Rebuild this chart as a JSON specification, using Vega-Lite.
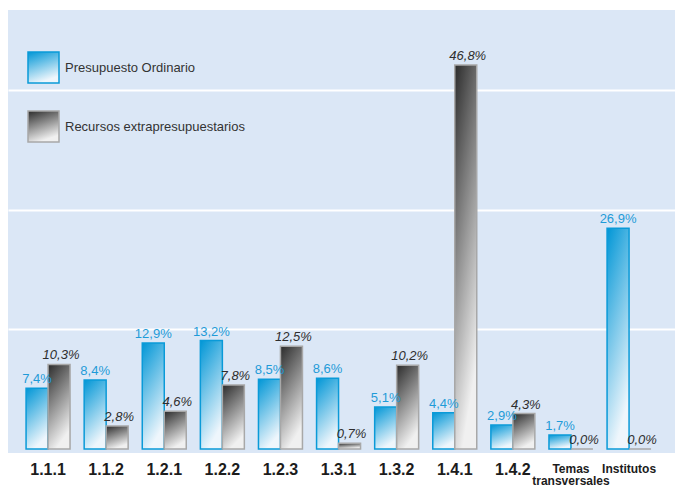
{
  "$schema": "https://vega.github.io/schema/vega-lite/v6.json",
  "width": 667,
  "height": 443,
  "autosize": "none",
  "padding": {"left": 8, "top": 10, "right": 0, "bottom": 35},
  "background": "white",
  "config": {
    "view": {"fill": "#dbe7f6", "stroke": null},
    "font": "Liberation Sans"
  },
  "data": {
    "values": [
      {"cat": "1.1.1", "series": "Presupuesto Ordinario", "v": 7.4},
      {"cat": "1.1.1", "series": "Recursos extrapresupuestarios", "v": 10.3},
      {"cat": "1.1.2", "series": "Presupuesto Ordinario", "v": 8.4},
      {"cat": "1.1.2", "series": "Recursos extrapresupuestarios", "v": 2.8},
      {"cat": "1.2.1", "series": "Presupuesto Ordinario", "v": 12.9},
      {"cat": "1.2.1", "series": "Recursos extrapresupuestarios", "v": 4.6},
      {"cat": "1.2.2", "series": "Presupuesto Ordinario", "v": 13.2},
      {"cat": "1.2.2", "series": "Recursos extrapresupuestarios", "v": 7.8},
      {"cat": "1.2.3", "series": "Presupuesto Ordinario", "v": 8.5},
      {"cat": "1.2.3", "series": "Recursos extrapresupuestarios", "v": 12.5},
      {"cat": "1.3.1", "series": "Presupuesto Ordinario", "v": 8.6},
      {"cat": "1.3.1", "series": "Recursos extrapresupuestarios", "v": 0.7},
      {"cat": "1.3.2", "series": "Presupuesto Ordinario", "v": 5.1},
      {"cat": "1.3.2", "series": "Recursos extrapresupuestarios", "v": 10.2},
      {"cat": "1.4.1", "series": "Presupuesto Ordinario", "v": 4.4},
      {"cat": "1.4.1", "series": "Recursos extrapresupuestarios", "v": 46.8},
      {"cat": "1.4.2", "series": "Presupuesto Ordinario", "v": 2.9},
      {"cat": "1.4.2", "series": "Recursos extrapresupuestarios", "v": 4.3},
      {"cat": "Temas transversales", "series": "Presupuesto Ordinario", "v": 1.7},
      {"cat": "Temas transversales", "series": "Recursos extrapresupuestarios", "v": 0.0},
      {"cat": "Institutos", "series": "Presupuesto Ordinario", "v": 26.9},
      {"cat": "Institutos", "series": "Recursos extrapresupuestarios", "v": 0.0}
    ]
  },
  "transform": [
    {"calculate": "replace(format(datum.v, '.1f'), '.', ',') + '%'", "as": "label"}
  ],
  "encoding": {
    "x": {
      "field": "cat",
      "type": "nominal",
      "sort": null,
      "scale": {"paddingInner": 0.243, "paddingOuter": 0.3615, "align": 0.43},
      "axis": {
        "title": null,
        "domain": false,
        "ticks": false,
        "labelAngle": 0,
        "labelFontWeight": "bold",
        "labelColor": "#1c1c1c",
        "labelFontSize": {"condition": {"test": "datum.value === 'Temas transversales' || datum.value === 'Institutos'", "value": 12}, "value": 16},
        "labelPadding": {"condition": {"test": "datum.value === 'Temas transversales' || datum.value === 'Institutos'", "value": 10}, "value": 8},
        "labelBaseline": "top",
        "labelLineHeight": 12.5,
        "labelExpr": "datum.value === 'Temas transversales' ? ['Temas', 'transversales'] : datum.value"
      }
    },
    "xOffset": {
      "field": "series",
      "type": "nominal",
      "scale": {"domain": ["Presupuesto Ordinario", "Recursos extrapresupuestarios"], "paddingInner": 0, "paddingOuter": 0}
    },
    "y": {
      "field": "v",
      "type": "quantitative",
      "scale": {"domain": [-0.5, 53.5], "nice": false, "zero": false},
      "axis": {
        "title": null,
        "domain": false,
        "ticks": false,
        "labels": false,
        "grid": true,
        "values": [14.6, 29.1, 43.75],
        "gridColor": "white",
        "gridWidth": 2,
        "gridOpacity": 1
      }
    }
  },
  "layer": [
    {
      "mark": {"type": "bar", "strokeWidth": 1.5, "fillOpacity": 1},
      "encoding": {
        "fill": {
          "field": "series",
          "type": "nominal",
          "scale": {
            "domain": ["Presupuesto Ordinario", "Recursos extrapresupuestarios"],
            "range": [
              {"expr": "{gradient: 'linear', x1: 0, y1: 0, x2: 0.35, y2: 1, stops: [{offset: 0, color: '#0096d6'}, {offset: 1, color: '#eef6fc'}]}"},
              {"expr": "{gradient: 'linear', x1: 0, y1: 0, x2: 0.35, y2: 1, stops: [{offset: 0, color: '#2b2b2b'}, {offset: 1, color: '#f0f0f0'}]}"}
            ]
          },
          "legend": {
            "title": null,
            "orient": "none",
            "legendX": 19,
            "legendY": 41,
            "symbolType": "square",
            "symbolSize": 961,
            "symbolStrokeWidth": 1.5,
            "symbolOpacity": 1,
            "labelFontSize": 13,
            "labelColor": "#333333",
            "labelOffset": 5,
            "labelLimit": 400,
            "rowPadding": 22
          }
        },
        "stroke": {
          "field": "series",
          "type": "nominal",
          "scale": {"domain": ["Presupuesto Ordinario", "Recursos extrapresupuestarios"], "range": ["#0a9ad8", "#a8a8a8"]},
          "legend": {
            "title": null,
            "orient": "none",
            "legendX": 19,
            "legendY": 41,
            "symbolType": "square",
            "symbolSize": 961,
            "symbolStrokeWidth": 1.5,
            "symbolOpacity": 1,
            "labelFontSize": 13,
            "labelColor": "#333333",
            "labelOffset": 5,
            "labelLimit": 400,
            "rowPadding": 22
          }
        }
      }
    },
    {
      "transform": [{"filter": "datum.series === 'Presupuesto Ordinario'"}],
      "mark": {"type": "text", "baseline": "bottom", "dy": -2, "font": "Liberation Sans", "fontSize": 13, "fill": "#1f9bd8"},
      "encoding": {"text": {"field": "label"}}
    },
    {
      "transform": [{"filter": "datum.series === 'Recursos extrapresupuestarios'"}],
      "mark": {"type": "text", "baseline": "bottom", "dy": -2, "dx": 2, "font": "Liberation Sans", "fontSize": 13, "fontStyle": "italic", "fill": "#2e2e2e"},
      "encoding": {"text": {"field": "label"}}
    }
  ]
}
